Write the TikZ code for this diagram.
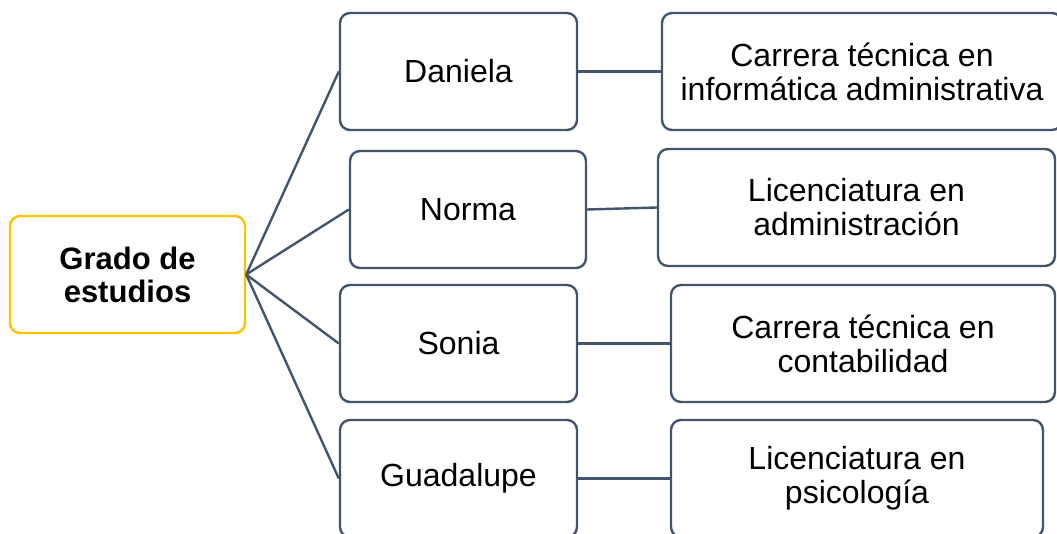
\documentclass[tikz,border=0pt]{standalone}
\usepackage{fontspec}
\setmainfont{Liberation Sans}
\usetikzlibrary{positioning}
\definecolor{slate}{HTML}{44546A}
\definecolor{gold}{HTML}{FFC000}
\tikzset{
    box/.style={draw=slate,line width=2.4pt,rounded corners=10pt,fill=white,align=center,
        minimum height=117pt,inner sep=2pt,font=\fontsize{32}{34}\selectfont},
    rootbox/.style={box,draw=gold,minimum width=235pt,font=\fontsize{31}{33}\selectfont\bfseries},
    namebox/.style={box,minimum width=237pt},
    link/.style={draw=slate,line width=2.4pt}
}

\begin{document}
\begin{tikzpicture}[x=1pt,y=-1pt]
    \useasboundingbox (0,0) rectangle (1057,533);
    \node [rootbox] (root) at (127.5,274.5) {Grado de\\estudios};
    % names
    \node [namebox] (daniela) at (458.5,71.5) {Daniela};
    \node [namebox,minimum width=236pt] (norma) at (468,209.5) {Norma};
    \node [namebox] (sonia) at (458.5,343.5) {Sonia};
    \node [namebox] (guadalupe) at (458.5,478.5) {Guadalupe};
    % degrees
    \node [box,minimum width=400pt] (informatica) at (862,71.5) {Carrera técnica en\\informática administrativa};
    \node [box,minimum width=397pt] (administracion) at (856.5,207.5) {Licenciatura en\\administración};
    \node [box,minimum width=384pt] (contabilidad) at (863,343.5) {Carrera técnica en\\contabilidad};
    \node [box,minimum width=372pt] (psicologia) at (857,478.5) {Licenciatura en\\psicología};
    \foreach \n/\d in {daniela/informatica,norma/administracion,sonia/contabilidad,guadalupe/psicologia} {
        \draw [link] (root.east) -- (\n.west);
        \draw [link] (\n.east) -- (\d.west);
    }
\end{tikzpicture}
\end{document}
